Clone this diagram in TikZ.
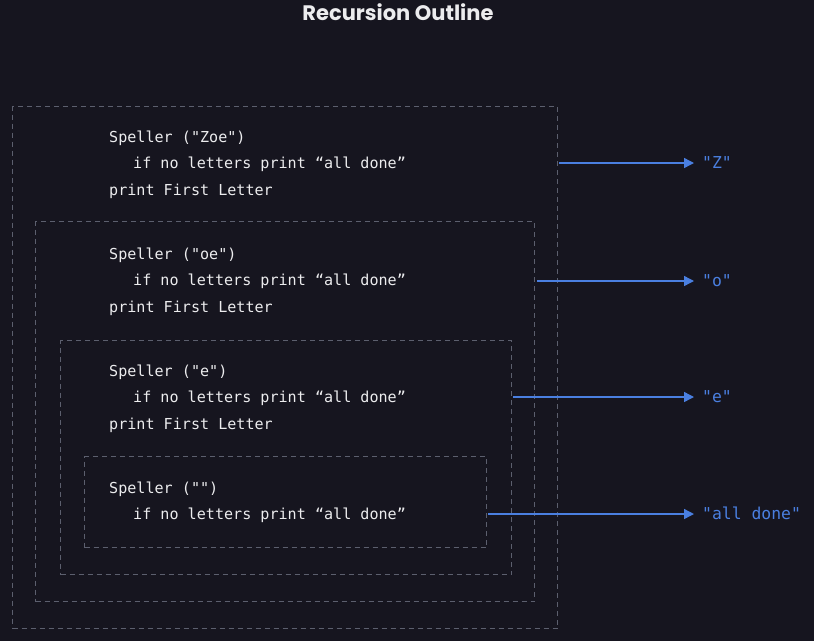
\documentclass[tikz,border=0pt]{standalone}
\usepackage{fontspec}
\newfontfamily\codefont{DejaVu Sans Mono}
\newfontfamily\titlefont{Poppins}
\usetikzlibrary{arrows.meta}
\definecolor{bg}{HTML}{16151F}
\definecolor{frame}{HTML}{5C5F6E}
\definecolor{arrowblue}{HTML}{4A7FE0}
\definecolor{txt}{HTML}{ECECEE}
\begin{document}
\begin{tikzpicture}[x=1pt,y=-1pt,
  callbox/.style={draw=frame, line width=1pt, dash pattern=on 5pt off 4pt, inner sep=0pt, anchor=north west},
  code/.style={text=txt, font=\codefont\fontsize{15.1}{17}\selectfont, anchor=base west, inner sep=0pt},
  outlabel/.style={text=arrowblue, font=\codefont\fontsize{16.4}{19}\selectfont, anchor=base west, inner sep=0pt},
  outarrow/.style={draw=arrowblue, line width=1.4pt, -{Triangle[length=10pt,width=10pt]}}]
\fill[bg] (0,0) rectangle (814,641);
\useasboundingbox (0,0) rectangle (814,641);
\node[text=txt, font=\titlefont\bfseries\fontsize{21}{25}\selectfont, anchor=base] (title) at (398,20) {Recursion Outline};
% boxes
\node[callbox, minimum width=545pt, minimum height=522pt] (b1) at (12,106) {};
\node[callbox, minimum width=499pt, minimum height=380pt] (b2) at (35,221) {};
\node[callbox, minimum width=451pt, minimum height=234pt] (b3) at (60,340) {};
\node[callbox, minimum width=402pt, minimum height=91pt] (b4) at (84,456) {};
% code text
\node[code] (t1a) at (109,142) {Speller ("Zoe")};
\node[code] (t1b) at (133,168) {if no letters print “all done”};
\node[code] (t1c) at (109,195) {print First Letter};
\node[code] (t2a) at (109,259) {Speller ("oe")};
\node[code] (t2b) at (133,285) {if no letters print “all done”};
\node[code] (t2c) at (109,312) {print First Letter};
\node[code] (t3a) at (109,376) {Speller ("e")};
\node[code] (t3b) at (133,402) {if no letters print “all done”};
\node[code] (t3c) at (109,429) {print First Letter};
\node[code] (t4a) at (109,493) {Speller ("")};
\node[code] (t4b) at (133,519) {if no letters print “all done”};
% outputs
\node[outlabel] (o1) at (702,168) {"Z"};
\node[outlabel] (o2) at (702,286) {"o"};
\node[outlabel] (o3) at (702,402) {"e"};
\node[outlabel] (o4) at (702,519) {"all done"};
\coordinate (s1) at (559,163);
\coordinate (s2) at (537,281);
\coordinate (s3) at (513,397);
\coordinate (s4) at (488,514);
\draw[outarrow] (s1) -- (694,163);
\draw[outarrow] (s2) -- (694,281);
\draw[outarrow] (s3) -- (694,397);
\draw[outarrow] (s4) -- (694,514);
\end{tikzpicture}
\end{document}
